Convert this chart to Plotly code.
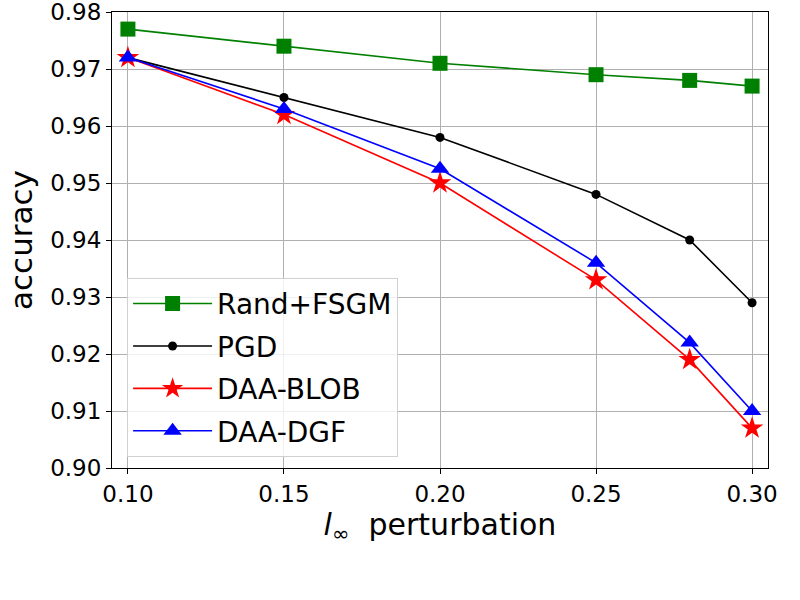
import plotly.graph_objects as go

# perturbation budgets (l-infinity)
eps = [0.10, 0.15, 0.20, 0.25, 0.28, 0.30]

# accuracy per method
rand_fsgm = [0.977, 0.974, 0.971, 0.969, 0.968, 0.967]
pgd = [0.972, 0.965, 0.958, 0.948, 0.940, 0.929]
daa_blob = [0.972, 0.962, 0.950, 0.933, 0.919, 0.907]
daa_dgf = [0.972, 0.963, 0.9525, 0.936, 0.922, 0.910]

x_ticks = [0.10, 0.15, 0.20, 0.25, 0.30]
y_ticks = [0.90, 0.91, 0.92, 0.93, 0.94, 0.95, 0.96, 0.97, 0.98]

series = [
    ("Rand+FSGM", rand_fsgm, "green", "square", 15),
    ("PGD", pgd, "black", "circle", 9),
    ("DAA-BLOB", daa_blob, "red", "star", 17),
    ("DAA-DGF", daa_dgf, "blue", "triangle-up", 16),
]

fig = go.Figure()
for name, vals, color, symbol, size in series:
    fig.add_trace(go.Scatter(
        x=eps, y=vals, name=name, legendgroup=name, mode="lines+markers",
        line=dict(color=color, width=1.6),
        marker=dict(symbol=symbol, size=size, color=color, line=dict(width=0)),
    ))

axis_common = dict(
    showgrid=True, gridcolor="#b0b0b0", gridwidth=1,
    showline=True, linecolor="black", linewidth=1, mirror=True,
    ticks="outside", ticklen=5, tickcolor="black",
    zeroline=False, automargin=False, ticklabeloverflow="allow",
    tickfont=dict(size=23, color="black"),
)

fig.update_layout(
    width=800, height=600,
    paper_bgcolor="white", plot_bgcolor="white",
    font=dict(family="DejaVu Sans", color="black"),
    margin=dict(l=112, r=32, t=12, b=132),
    xaxis=dict(
        range=[0.0949, 0.3051], tickvals=x_ticks,
        ticktext=[f"{v:.2f}" for v in x_ticks],
        title=dict(text="<i>l</i><sub>∞</sub>  perturbation", font=dict(size=30), standoff=6),
        **axis_common,
    ),
    yaxis=dict(
        range=[0.90, 0.98], tickvals=y_ticks,
        ticktext=[f"{v:.2f}" for v in y_ticks],
        title=dict(text="accuracy", font=dict(size=31), standoff=8),
        **axis_common,
    ),
    legend=dict(
        x=0.023, y=0.417, xanchor="left", yanchor="top",
        bgcolor="rgba(255,255,255,0.8)", bordercolor="#d0d0d0", borderwidth=1,
        font=dict(size=28), itemwidth=79, tracegroupgap=3,
    ),
)

# drop the default page margin so the figure sits at the window origin
fig.write_html("out.html", config={"displayModeBar": False},
               post_script="document.body.style.margin='0';")
